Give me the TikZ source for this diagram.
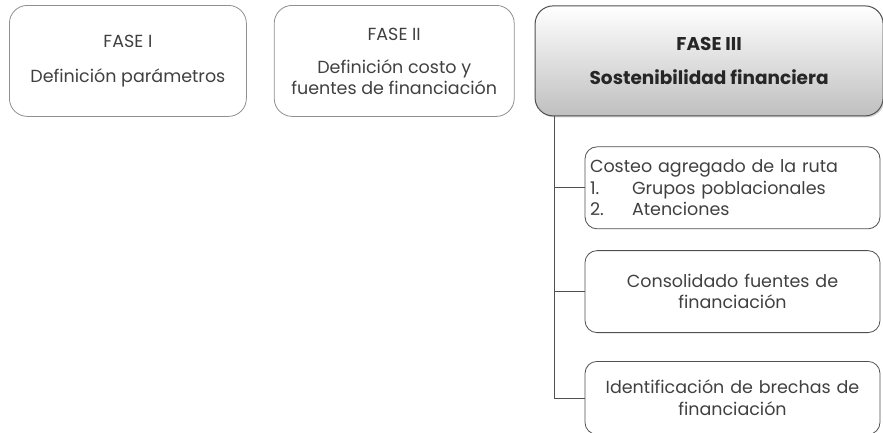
\documentclass[tikz,border=0pt]{standalone}
\usepackage{fontspec}
\setmainfont{Poppins}
\usetikzlibrary{positioning, shadows}
\definecolor{txtgray}{HTML}{404040}
\definecolor{linegray}{HTML}{8F8F8F}
\definecolor{darkline}{HTML}{505050}
\tikzstyle{fase} = [rectangle, rounded corners=18pt, minimum width=237pt, minimum height=111pt, align=center, inner sep=0pt, draw=linegray, line width=0.8pt, text=txtgray, font=\fontsize{17.5}{21}\selectfont]
\tikzstyle{faseactiva} = [rectangle, rounded corners=18pt, minimum width=348pt, minimum height=110pt, align=center, inner sep=0pt, draw=darkline, line width=1pt, top color=white, bottom color=black!25, drop shadow={opacity=0.35, shadow xshift=1.5pt, shadow yshift=-1.5pt}, text=black!85, font=\fontsize{18.5}{22}\selectfont\bfseries]
\tikzstyle{tarea} = [rectangle, rounded corners=12pt, minimum width=295pt, minimum height=82pt, inner xsep=5pt, draw=darkline, line width=0.8pt, text=txtgray, font=\fontsize{17.5}{21.5}\selectfont]
\tikzstyle{rama} = [darkline, line width=0.8pt]

\begin{document}
\begin{tikzpicture}[node distance=1cm]
\useasboundingbox (0pt,0pt) rectangle (883pt,-432pt);

\node (fase1) [fase, anchor=north west] at (9pt,-5pt) {FASE I\\[14pt]Definición parámetros};
\node (fase2) [fase, minimum width=240pt, right=27pt of fase1] {FASE II\\[12pt]Definición costo y\\fuentes de financiación};
\node (fase3) [faseactiva, right=20pt of fase2] {FASE III\\[12pt]Sostenibilidad financiera};

\node (costeo) [tarea, text width=285pt, align=left, anchor=north west, below right=30pt and 50pt of fase3.south west] {Costeo agregado de la ruta\\\makebox[42pt][l]{1.}Grupos poblacionales\\\makebox[42pt][l]{2.}Atenciones};
\node (consol) [tarea, text width=285pt, align=center, below=21pt of costeo] {Consolidado fuentes de\\financiación};
\node (brechas) [tarea, text width=285pt, align=center, minimum height=73pt, below=28pt of consol] {Identificación de brechas de\\financiación};

\coordinate (tronco) at ([xshift=20pt]fase3.south west);

\draw [rama] (tronco) |- (brechas.west);
\draw [rama] (tronco) |- (costeo.west);
\draw [rama] (tronco) |- (consol.west);

\end{tikzpicture}
\end{document}
